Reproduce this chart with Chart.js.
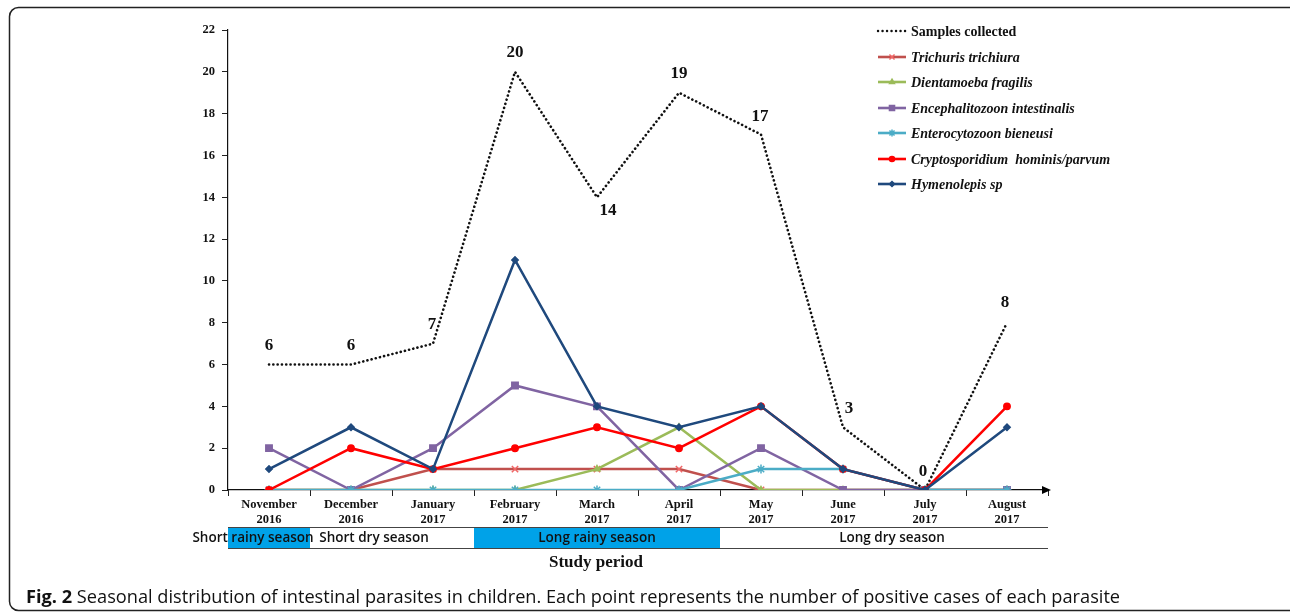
<!DOCTYPE html>
<html>
<head>
<meta charset="utf-8">
<script src="https://cdn.jsdelivr.net/npm/chart.js@4.4.1/dist/chart.umd.min.js"></script>
<style>
html,body{margin:0;padding:0;background:#fff;}
#wrap{position:relative;width:1290px;height:613px;}
canvas{display:block;}
</style>
</head>
<body>
<div id="wrap"><canvas id="c" width="1290" height="613"></canvas></div>
<script>
// ---- data ----
const months = [["November","2016"],["December","2016"],["January","2017"],["February","2017"],["March","2017"],["April","2017"],["May","2017"],["June","2017"],["July","2017"],["August","2017"]];
const samplesCollected = [6, 6, 7, 20, 14, 19, 17, 3, 0, 8];
const trichuris       = [0, 0, 1, 1, 1, 1, 0, 0, 0, 0];
const dientamoeba     = [0, 0, 0, 0, 1, 3, 0, 0, 0, 0];
const encephalitozoon = [2, 0, 2, 5, 4, 0, 2, 0, 0, 0];
const enterocytozoon  = [0, 0, 0, 0, 0, 0, 1, 1, 0, 0];
const cryptosporidium = [0, 2, 1, 2, 3, 2, 4, 1, 0, 4];
const hymenolepis     = [1, 3, 1, 11, 4, 3, 4, 1, 0, 3];
const yTicks = [0, 2, 4, 6, 8, 10, 12, 14, 16, 18, 20, 22];
const seasonNames = ["Short rainy season", "Short dry season", "Long rainy season", "Long dry season"];
const seasonStart = [0, 1, 3, 6];
const seasonEnd   = [0, 2, 5, 9];
const seasonBlue  = [true, false, true, false];

const SERIF = '"Liberation Serif","Times New Roman",serif';
const SANS = '"Open Sans","Liberation Sans",sans-serif';

function ds(label, data, color, ptColor, style, radius, order, italic) {
  return {label, data, borderColor: color, backgroundColor: ptColor, pointBackgroundColor: ptColor,
    pointBorderColor: ptColor, pointStyle: style, pointRadius: radius, pointBorderWidth: 1.5,
    borderWidth: 2.5, tension: 0, order, italic};
}
const datasets = [
  Object.assign(ds("Samples collected", samplesCollected, "#111", "#111", false, 0, 7, false),
    {borderDash: [0.1, 4.2], borderCapStyle: "round", borderWidth: 2.6, isSamples: true}),
  ds("Trichuris trichiura", trichuris, "#C0504D", "#F06666", "crossRot", 4.5, 6, true),
  ds("Dientamoeba fragilis", dientamoeba, "#9BBB59", "#9BBB59", "triangle", 3.5, 5, true),
  ds("Encephalitozoon intestinalis", encephalitozoon, "#8064A2", "#8064A2", "rect", 4.5, 4, true),
  ds("Enterocytozoon bieneusi", enterocytozoon, "#4BACC6", "#4BACC6", "star", 4.5, 3, true),
  ds("Cryptosporidium  hominis/parvum", cryptosporidium, "#FF0000", "#FF0000", "circle", 3.2, 2, true),
  ds("Hymenolepis sp", hymenolepis, "#1F497D", "#1F497D", "rectRot", 3.2, 1, true)
];

const labelOffsets = [[0,-19],[0,-19],[-1,-19],[0,-19],[11,13],[0,-19],[-1,-18],[6,-19],[-2,-18],[-2,-20]];

const decor = {
  id: "decor",
  afterDraw(chart) {
    const ctx = chart.ctx, x = chart.scales.x, y = chart.scales.y, ca = chart.chartArea;
    ctx.save();
    // frame
    ctx.strokeStyle = "#222"; ctx.lineWidth = 1.5;
    ctx.beginPath();
    const fx = 9.5, fy = 7.5, fw = 1300, fh = 603, r = 9;
    ctx.moveTo(fx + r, fy); ctx.lineTo(fx + fw, fy); ctx.moveTo(fx, fy + r);
    ctx.arcTo(fx, fy, fx + r, fy, r);
    ctx.moveTo(fx, fy + r); ctx.lineTo(fx, fy + fh - r); ctx.arcTo(fx, fy + fh, fx + r, fy + fh, r);
    ctx.lineTo(fx + fw, fy + fh);
    ctx.stroke();
    // arrow
    ctx.fillStyle = "#000";
    ctx.beginPath(); ctx.moveTo(ca.right + 3, ca.bottom); ctx.lineTo(ca.right - 6, ca.bottom - 4); ctx.lineTo(ca.right - 6, ca.bottom + 4); ctx.closePath(); ctx.fill();
    // samples value labels
    const meta = chart.getDatasetMeta(0);
    ctx.font = "bold 17px " + SERIF; ctx.textAlign = "center"; ctx.textBaseline = "middle"; ctx.fillStyle = "#111";
    samplesCollected.forEach((v, i) => {
      const p = meta.data[i];
      ctx.fillText(String(v), p.x + labelOffsets[i][0], p.y + labelOffsets[i][1]);
    });
    // season bar
    const half = (x.getPixelForValue(1) - x.getPixelForValue(0)) / 2;
    const top = 527, bot = 548;
    seasonNames.forEach((name, i) => {
      const l = x.getPixelForValue(seasonStart[i]) - half, rr = x.getPixelForValue(seasonEnd[i]) + half;
      if (seasonBlue[i]) { ctx.fillStyle = "#00A2E8"; ctx.fillRect(l, top, rr - l, bot - top); }
    });
    ctx.strokeStyle = "#444"; ctx.lineWidth = 1;
    ctx.beginPath(); ctx.moveTo(ca.left, top + 0.5); ctx.lineTo(ca.right, top + 0.5);
    ctx.moveTo(ca.left, bot + 0.5); ctx.lineTo(ca.right, bot + 0.5); ctx.stroke();
    const shifts = [-16, -18, 0, 8];
    ctx.font = "600 13.5px " + SANS; ctx.fillStyle = "#111"; ctx.textBaseline = "middle";
    seasonNames.forEach((name, i) => {
      const l = x.getPixelForValue(seasonStart[i]) - half, rr = x.getPixelForValue(seasonEnd[i]) + half;
      ctx.fillText(name, (l + rr) / 2 + shifts[i], (top + bot) / 2 + 1);
    });
    // study period
    ctx.font = "bold 17px " + SERIF; ctx.fillText("Study period", (ca.left + ca.right) / 2 - 42, 563);
    // legend
    const rows = [31, 57, 82, 108, 133, 159, 184];
    chart.data.datasets.forEach((d, i) => {
      const yy = rows[i];
      ctx.save();
      ctx.strokeStyle = d.borderColor; ctx.lineWidth = d.isSamples ? 2.4 : 2.6;
      if (d.isSamples) { ctx.setLineDash([0.1, 4.4]); ctx.lineCap = "round"; }
      ctx.beginPath(); ctx.moveTo(878, yy); ctx.lineTo(906, yy); ctx.stroke();
      ctx.restore();
      if (!d.isSamples) {
        ctx.fillStyle = d.pointBackgroundColor; ctx.strokeStyle = d.pointBorderColor; ctx.lineWidth = 1.5;
        Chart.helpers.drawPoint(ctx, {pointStyle: d.pointStyle, radius: d.pointRadius * 0.8, borderWidth: 1.5, rotation: 0}, 892, yy);
      }
      ctx.fillStyle = "#111"; ctx.textAlign = "left"; ctx.textBaseline = "middle";
      ctx.font = (d.italic ? "italic " : "") + "bold 14px " + SERIF;
      ctx.fillText(d.label, 911, yy + 1);
    });
    // caption
    ctx.textAlign = "left"; ctx.textBaseline = "alphabetic"; ctx.fillStyle = "#111";
    ctx.font = "bold 18.2px " + SANS;
    ctx.fillText("Fig. 2", 26, 603);
    const w = ctx.measureText("Fig. 2 ").width;
    ctx.font = "18.2px " + SANS;
    ctx.fillText("Seasonal distribution of intestinal parasites in children. Each point represents the number of positive cases of each parasite", 26 + w, 603);
    ctx.restore();
  }
};

new Chart(document.getElementById("c"), {
  type: "line",
  data: {labels: months, datasets},
  options: {
    responsive: false, animation: false, devicePixelRatio: 1,
    layout: {padding: {left: 187, right: 242, top: 30, bottom: 63}},
    plugins: {legend: {display: false}, tooltip: {enabled: false}},
    elements: {line: {fill: false}},
    scales: {
      x: {
        offset: true,
        grid: {display: true, drawOnChartArea: false, drawTicks: true, tickLength: 6, color: "#222", offset: true},
        border: {display: true, color: "#111", width: 1.2},
        ticks: {color: "#111", font: {family: SERIF, weight: "bold", size: 12.5}, padding: 1, maxRotation: 0, autoSkip: false},
        afterFit(s) { s.height = 60; }
      },
      y: {
        min: 0, max: 22,
        afterBuildTicks(s) { s.ticks = yTicks.map(v => ({value: v})); },
        grid: {display: true, drawOnChartArea: false, drawTicks: true, tickLength: 6, color: "#222"},
        border: {display: true, color: "#111", width: 1.2},
        ticks: {color: "#111", font: {family: SERIF, weight: "bold", size: 12.5}, padding: 7},
        afterFit(s) { s.width = 41; }
      }
    }
  },
  plugins: [decor]
});
</script>
</body>
</html>
